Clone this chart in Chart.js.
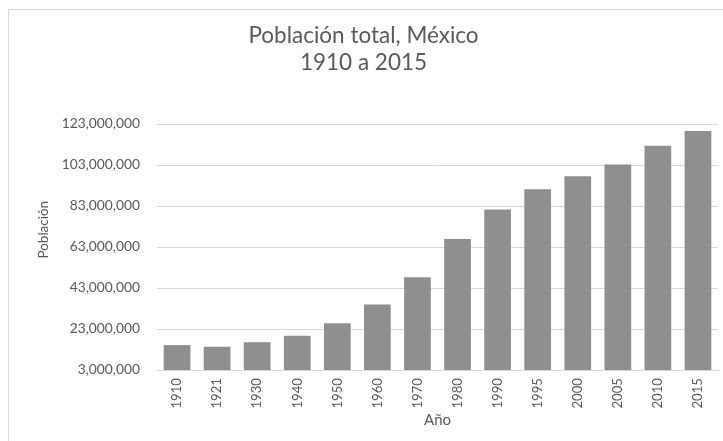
<!DOCTYPE html>
<html>
<head>
<meta charset="utf-8">
<script src="https://cdn.jsdelivr.net/npm/chart.js@4.4.0/dist/chart.umd.min.js"></script>
<style>
  html, body { margin: 0; padding: 0; background: #fff; overflow: hidden; }
  #box { position: absolute; left: 8px; top: 9px; width: 730px; height: 440px; border: 1px solid #d9d9d9; }
  #myChart { display: block; }
</style>
</head>
<body>
<div id="box"><canvas id="myChart" width="730" height="431"></canvas></div>
<script>
// census years and total population
const years = ['1910', '1921', '1930', '1940', '1950', '1960', '1970', '1980', '1990', '1995', '2000', '2005', '2010', '2015'];
const population = [15160000, 14335000, 16553000, 19654000, 25791000, 34923000, 48225000, 66847000, 81250000, 91158000, 97483000, 103263000, 112337000, 119531000];
const yTicks = [3000000, 23000000, 43000000, 63000000, 83000000, 103000000, 123000000];

const textColor = '#595959';
const fontName = 'Lato, "Open Sans", sans-serif';

const data = {
    labels: years,
    datasets: [{
        label: 'Población',
        data: population,
        backgroundColor: '#8f8f8f',
        borderWidth: 0,
        barPercentage: 0.667,
        categoryPercentage: 1
    }]
};

const config = {
    type: 'bar',
    data: data,
    options: {
        responsive: false,
        animation: false,
        layout: { padding: { left: 0, right: 21, top: 0, bottom: 0 } },
        plugins: {
            legend: { display: false },
            tooltip: { enabled: false },
            title: {
                display: true,
                text: ['Población total, México', '1910 a 2015'],
                color: textColor,
                font: { family: fontName, size: 22.5, weight: 'normal', lineHeight: 1.2 },
                padding: { top: 12, bottom: 48 }
            }
        },
        scales: {
            x: {
                grid: { display: false, drawTicks: false },
                border: { color: '#d9d9d9' },
                ticks: {
                    color: textColor,
                    font: { family: fontName, size: 13.2 },
                    minRotation: 90,
                    maxRotation: 90,
                    padding: 8
                },
                title: {
                    display: true,
                    text: 'Año',
                    color: textColor,
                    font: { family: fontName, size: 15 },
                    padding: { top: 4, bottom: 12 }
                },
                afterFit: (s) => { s.height = 71; }
            },
            y: {
                min: 3000000,
                max: 123000000,
                border: { display: false },
                grid: { color: '#d9d9d9', drawTicks: false },
                afterBuildTicks: (s) => { s.ticks = yTicks.map(v => ({ value: v })); },
                ticks: {
                    color: textColor,
                    font: { family: fontName, size: 13.8 },
                    padding: 17,
                    callback: (v) => v.toLocaleString('en-US')
                },
                title: {
                    display: true,
                    // leading spaces lift the label a little above the middle, as in the original
                    text: '          Población',
                    color: textColor,
                    font: { family: fontName, size: 13.5 },
                    padding: { top: 27, bottom: 0 }
                },
                afterFit: (s) => { s.width = 148; }
            }
        }
    }
};

new Chart(document.getElementById('myChart'), config);
</script>
</body>
</html>
